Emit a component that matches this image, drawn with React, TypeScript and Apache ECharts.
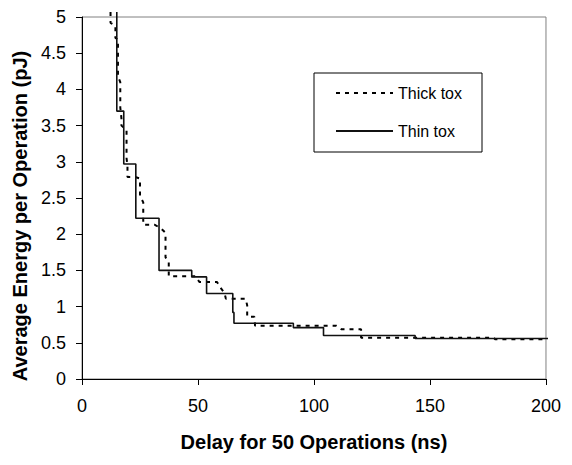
import React, { useEffect, useRef } from "react";
import * as echarts from "echarts";

const xTicks = [0, 50, 100, 150, 200];
const yTicks = [0, 0.5, 1, 1.5, 2, 2.5, 3, 3.5, 4, 4.5, 5];

const thickName = "Thick tox";
const thickX = [12.3, 12.3, 14.4, 14.4, 15.5, 15.5, 16.5, 16.5, 17.0, 17.0, 19.2, 19.2, 19.6, 19.6, 22.9, 25.0, 25.0, 26.4, 26.4, 31.4, 34.0, 36.0, 36.0, 37.4, 37.4, 49.0, 50.6, 58.2, 59.7, 61.4, 62.0, 70.5, 71.2, 71.2, 74.3, 74.6, 109.7, 111.9, 120.3, 120.3, 177.5, 178.0, 203.0];
const thickY = [5.07, 4.92, 4.88, 4.71, 4.69, 4.18, 4.1, 3.75, 3.6, 3.5, 3.44, 3.05, 2.95, 2.79, 2.79, 2.77, 2.53, 2.44, 2.13, 2.13, 2.08, 2.02, 1.68, 1.62, 1.42, 1.42, 1.34, 1.34, 1.26, 1.19, 1.11, 1.11, 1.02, 0.86, 0.86, 0.735, 0.735, 0.686, 0.686, 0.57, 0.57, 0.55, 0.55];

const thinName = "Thin tox";
const thinX = [15.0, 15.0, 18.0, 18.0, 23.2, 23.2, 33.2, 33.2, 47.3, 47.3, 53.7, 53.7, 65.0, 65.0, 65.5, 65.5, 91.1, 91.1, 104.1, 104.1, 143.6, 143.6, 203.0];
const thinY = [5.07, 3.7, 3.7, 2.97, 2.97, 2.22, 2.22, 1.5, 1.5, 1.41, 1.41, 1.18, 1.18, 0.92, 0.92, 0.77, 0.77, 0.71, 0.71, 0.6, 0.6, 0.56, 0.56];

const xTitle = "Delay for 50 Operations (ns)";
const yTitle = "Average Energy per Operation (pJ)";

const FONT = "'Liberation Sans', Arial, sans-serif";

export default function App() {
  const ref = useRef<HTMLDivElement>(null);
  useEffect(() => {
    if (!ref.current) return;
    const chart = echarts.init(ref.current, null, { renderer: "svg" });
    const pair = (xs: number[], ys: number[]) => xs.map((x, i) => [x, ys[i]]);
    chart.setOption({
      animation: false,
      backgroundColor: "#ffffff",
      textStyle: { fontFamily: FONT },
      grid: {
        left: 74,
        right: 8,
        top: 7,
        bottom: 69,
        show: true,
        borderColor: "#808080",
        borderWidth: 1,
        backgroundColor: "transparent",
      },
      legend: {
        orient: "vertical",
        left: 306,
        top: 65,
        padding: [12, 20, 13, 21],
        itemWidth: 57,
        itemHeight: 16,
        itemGap: 22,
        borderColor: "#000",
        borderWidth: 1,
        backgroundColor: "#fff",
        itemStyle: { opacity: 0 },
        textStyle: { fontSize: 16, color: "#000", fontFamily: FONT },
        data: [thickName, thinName],
      },
      graphic: [
        {
          type: "text",
          x: 12,
          y: 208,
          rotation: Math.PI / 2,
          style: {
            text: yTitle,
            fill: "#000",
            font: `bold 20px ${FONT}`,
            textAlign: "center",
            textVerticalAlign: "middle",
          },
        },
      ],
      xAxis: {
        type: "value",
        min: xTicks[0],
        max: xTicks[xTicks.length - 1],
        interval: xTicks[1] - xTicks[0],
        name: xTitle,
        nameLocation: "middle",
        nameGap: 53,
        nameTextStyle: { fontSize: 20, fontWeight: "bold", color: "#000", fontFamily: FONT },
        axisLine: { show: true, onZero: false, lineStyle: { color: "#000", width: 1 } },
        axisTick: { show: true, inside: false, length: 6, lineStyle: { color: "#000" } },
        axisLabel: { fontSize: 18, color: "#000", margin: 18, fontFamily: FONT },
        splitLine: { show: false },
      },
      yAxis: {
        type: "value",
        min: yTicks[0],
        max: yTicks[yTicks.length - 1],
        interval: yTicks[1] - yTicks[0],
        axisLine: { show: true, onZero: false, lineStyle: { color: "#000", width: 1 } },
        axisTick: { show: true, inside: false, length: 6, lineStyle: { color: "#000" } },
        axisLabel: { fontSize: 18, color: "#000", margin: 16, fontFamily: FONT },
        splitLine: { show: false },
      },
      series: [
        {
          name: thickName,
          type: "line",
          data: pair(thickX, thickY),
          symbol: "none",
          clip: false,
          lineStyle: { color: "#000", width: 2, type: [4, 5] },
          itemStyle: { color: "#000", opacity: 0 },
        },
        {
          name: thinName,
          type: "line",
          data: pair(thinX, thinY),
          symbol: "none",
          clip: false,
          lineStyle: { color: "#111", width: 1.6, type: "solid" },
          itemStyle: { color: "#000", opacity: 0 },
        },
      ],
    });
    return () => chart.dispose();
  }, []);
  return <div ref={ref} style={{ width: 556, height: 449 }} />;
}
